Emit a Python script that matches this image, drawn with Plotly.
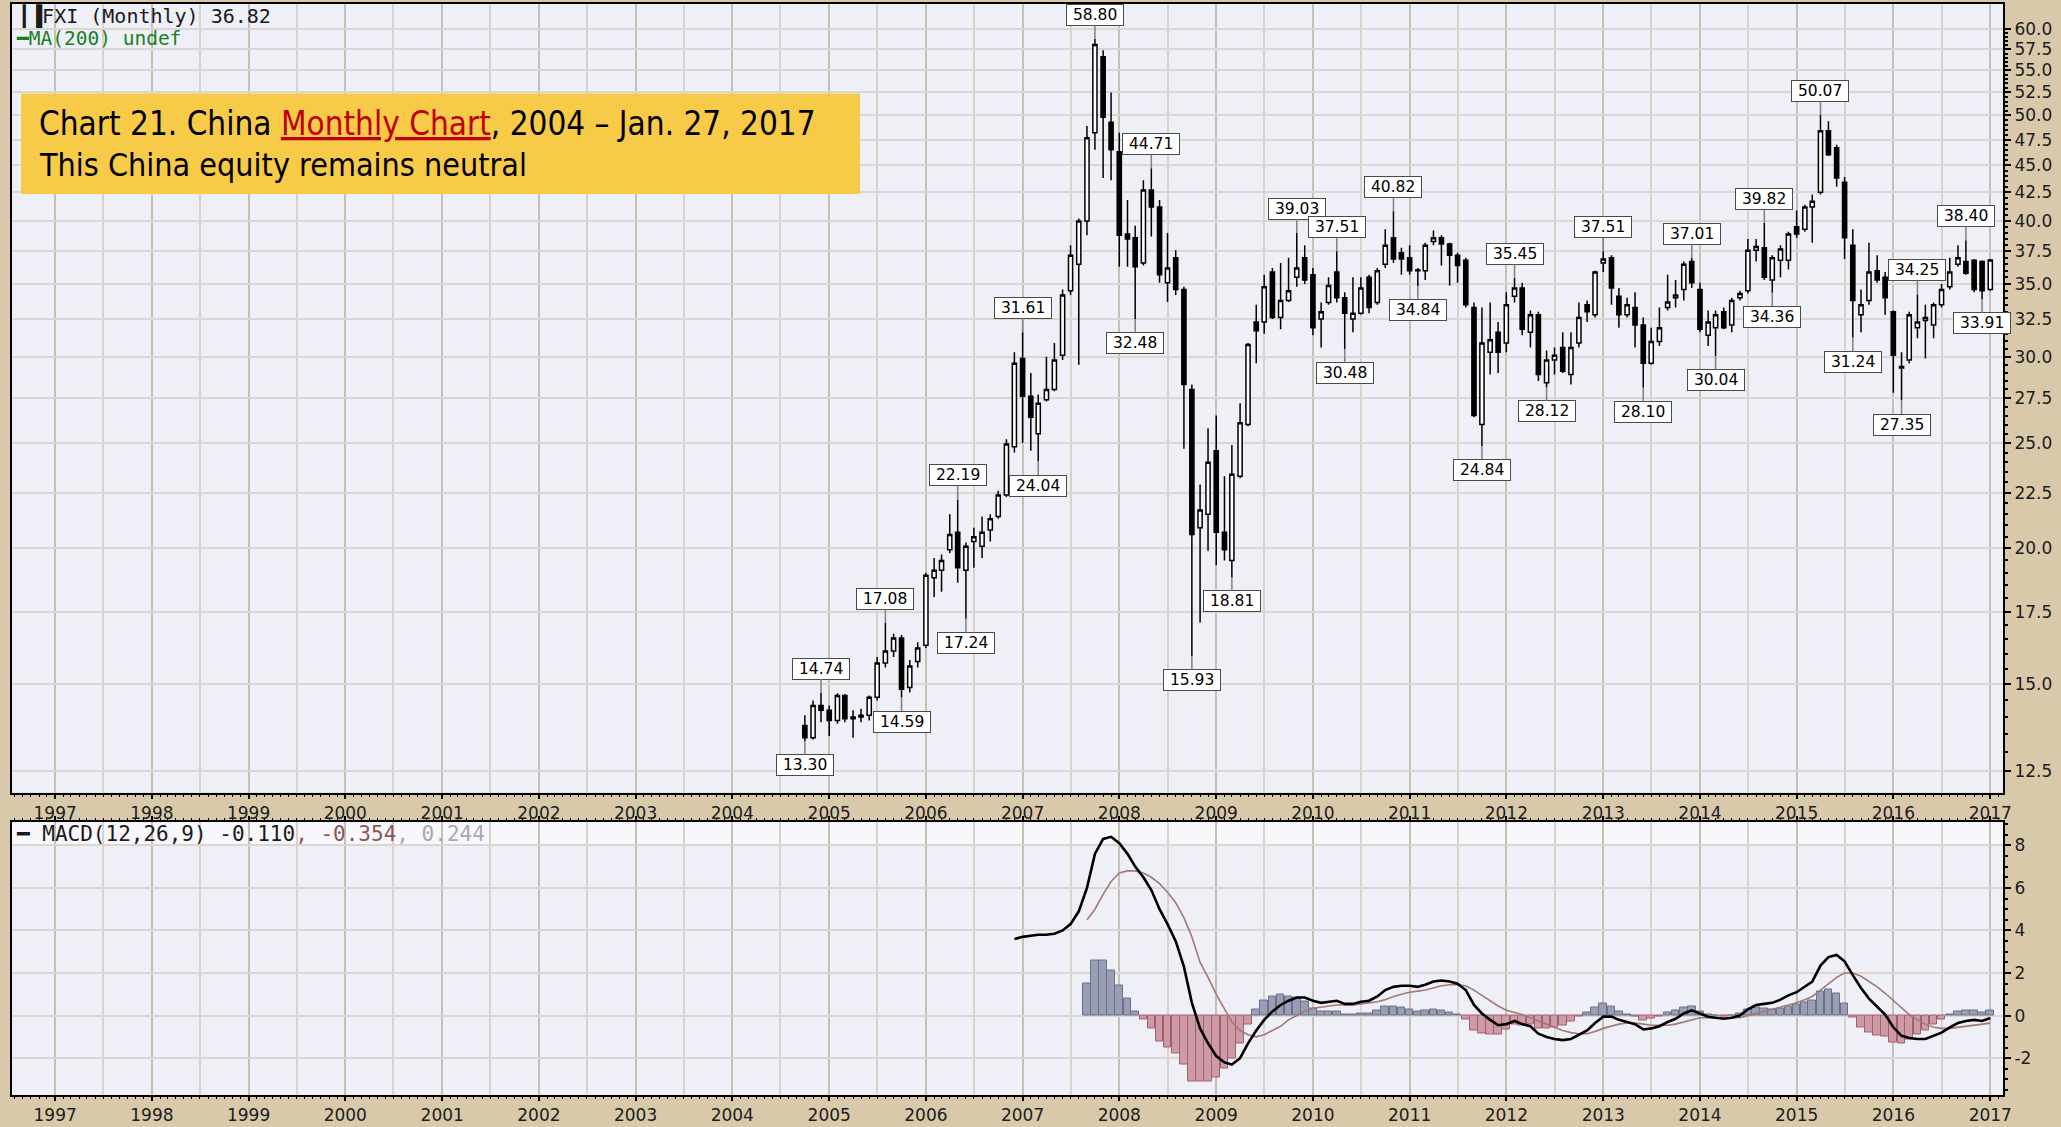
import numpy as np
import pandas as pd
import plotly.graph_objects as go

# ---------------- data (FXI monthly, Oct 2004 - Jan 2017) ----------------
open_ = [
    13.75, 13.40, 14.35,                                                        # 2004 Oct-Dec
    14.20, 13.90, 14.65, 13.95, 14.00, 14.05, 14.60, 15.70, 16.10, 16.55, 14.90, 15.75,  # 2005
    16.30, 18.80, 19.10, 19.95, 20.70, 19.10, 20.30, 20.10, 20.80, 21.40, 22.40, 24.80,  # 2006
    29.90, 27.60, 25.50, 27.40, 28.00, 30.10, 34.50, 36.50, 40.00, 48.20, 56.60, 49.30,  # 2007
    46.30, 38.90, 38.60, 36.60, 42.70, 41.20, 35.10, 37.00, 34.60, 28.00, 20.90, 21.50,  # 2008
    24.60, 20.70, 19.50, 23.30, 26.00, 32.30, 32.30, 35.90, 32.60, 33.80, 35.50, 37.00,  # 2009
    35.70, 32.50, 33.66, 35.90, 34.00, 32.50, 32.90, 35.50, 33.66, 36.50, 38.60, 37.40,  # 2010
    37.00, 36.00, 36.00, 38.30, 38.60, 38.10, 37.20, 36.80, 33.30, 26.00, 30.30, 31.60,  # 2011
    30.90, 34.10, 34.70, 31.60, 32.80, 28.40, 29.80, 30.60, 28.90, 30.90, 33.50, 32.80,  # 2012
    36.60, 37.00, 34.10, 32.80, 33.30, 32.10, 29.60, 31.00, 33.30, 34.00, 34.60, 36.70,  # 2013
    34.60, 31.40, 31.90, 33.00, 32.10, 34.00, 34.50, 37.60, 37.80, 35.30, 36.80, 36.80,  # 2014
    39.50, 39.30, 41.20, 42.50, 48.40, 46.70, 43.40, 38.00, 32.80, 33.80, 36.00, 35.50,  # 2015
    33.00, 29.30, 29.80, 31.90, 32.40, 32.10, 33.50, 34.80, 36.50, 36.70, 36.80, 36.70,  # 2016
    34.60,                                                                      # 2017 Jan
]
high = [
    14.05, 14.50, 14.74,
    14.35, 14.72, 14.70, 14.20, 14.25, 14.65, 15.90, 17.08, 16.70, 16.65, 15.80, 16.40,
    19.00, 19.60, 19.75, 21.50, 22.19, 20.25, 20.90, 21.40, 21.50, 22.60, 25.20, 30.30,
    31.61, 29.00, 27.70, 30.00, 30.90, 34.60, 38.00, 40.20, 48.90, 58.80, 57.40, 52.50,
    48.20, 41.80, 39.60, 43.60, 44.71, 41.80, 39.00, 37.60, 34.80, 28.30, 22.90, 25.80,
    26.50, 23.30, 24.90, 27.20, 30.90, 33.50, 35.70, 36.20, 36.60, 37.00, 39.03, 38.00,
    36.20, 33.66, 35.50, 37.51, 34.40, 35.50, 35.50, 35.70, 36.20, 39.30, 40.82, 37.80,
    38.00, 36.20, 38.20, 39.20, 38.80, 38.20, 37.40, 37.00, 33.66, 33.30, 33.66, 32.30,
    34.40, 35.45, 35.10, 33.10, 33.00, 30.40, 30.60, 31.60, 31.60, 33.66, 33.80, 36.00,
    37.51, 37.20, 34.70, 34.00, 34.40, 32.60, 31.90, 33.30, 35.70, 35.30, 36.70, 37.01,
    35.10, 33.10, 33.10, 33.30, 34.00, 34.50, 38.50, 38.50, 39.82, 37.20, 38.00, 39.10,
    40.90, 41.40, 42.30, 50.07, 49.40, 47.00, 43.90, 39.30, 34.60, 38.20, 37.20, 35.90,
    33.10, 30.30, 33.00, 34.25, 33.50, 33.66, 35.00, 37.00, 38.00, 38.40, 36.90, 36.80,
    36.90,
]
low = [
    13.30, 13.35, 13.85,
    13.45, 13.80, 13.85, 13.40, 13.85, 13.90, 14.50, 15.55, 15.90, 14.59, 14.75, 15.55,
    16.20, 18.05, 18.25, 19.80, 18.60, 17.24, 19.20, 19.60, 20.30, 21.30, 22.30, 24.50,
    25.00, 24.60, 24.04, 27.30, 27.90, 29.80, 34.20, 29.50, 38.80, 46.50, 43.80, 43.60,
    36.30, 36.30, 32.48, 36.40, 38.70, 35.10, 33.70, 34.20, 24.70, 15.93, 17.10, 19.90,
    19.30, 19.50, 18.81, 23.20, 25.90, 29.60, 31.50, 32.50, 31.80, 33.70, 34.80, 35.00,
    31.40, 30.60, 33.50, 33.66, 30.48, 31.60, 32.80, 32.90, 33.50, 36.20, 36.60, 35.70,
    35.70, 34.84, 35.30, 38.00, 36.40, 34.90, 35.10, 33.30, 26.40, 24.84, 28.90, 29.00,
    30.30, 33.66, 31.40, 30.60, 28.50, 28.12, 28.90, 29.00, 28.30, 30.60, 32.30, 32.60,
    35.90, 33.50, 31.90, 32.60, 30.60, 28.10, 29.50, 30.70, 33.10, 33.30, 33.80, 34.70,
    31.60, 30.70, 30.04, 31.80, 31.60, 33.80, 34.30, 36.70, 35.30, 34.36, 35.50, 36.10,
    38.60, 39.10, 38.20, 42.30, 45.90, 43.00, 36.90, 31.24, 31.60, 33.50, 35.10, 32.80,
    27.80, 27.35, 29.60, 31.20, 29.90, 31.20, 33.30, 34.60, 36.30, 35.70, 34.40, 33.91,
    34.50,
]
close = [
    13.40, 14.35, 14.20,
    13.90, 14.65, 13.95, 14.00, 14.05, 14.60, 15.70, 16.10, 16.55, 14.85, 15.60, 16.20,
    18.90, 19.10, 19.50, 20.60, 19.20, 20.10, 20.50, 20.70, 21.30, 22.40, 24.95, 29.60,
    27.60, 26.40, 27.20, 28.00, 29.80, 34.20, 37.20, 40.00, 47.70, 58.10, 49.80, 46.50,
    38.80, 38.50, 36.30, 42.70, 41.20, 35.70, 36.20, 34.60, 28.30, 20.60, 21.70, 24.00,
    20.70, 19.95, 23.40, 26.10, 30.80, 31.70, 34.80, 32.60, 33.80, 34.50, 36.20, 35.30,
    31.90, 33.00, 34.90, 34.00, 32.90, 32.90, 34.70, 33.30, 36.00, 38.00, 36.90, 36.90,
    36.00, 36.05, 38.00, 38.60, 38.10, 37.20, 36.40, 33.50, 26.50, 30.90, 31.10, 30.30,
    33.50, 34.70, 31.80, 32.80, 28.90, 29.80, 30.10, 29.10, 30.60, 32.60, 33.00, 35.90,
    36.90, 34.70, 32.80, 33.50, 32.10, 29.60, 31.00, 31.90, 33.70, 34.20, 36.50, 35.10,
    31.80, 32.30, 32.80, 31.90, 33.80, 34.30, 37.60, 37.90, 35.50, 37.00, 37.70, 38.90,
    38.90, 41.20, 41.70, 48.40, 46.00, 43.80, 38.60, 33.80, 33.50, 35.90, 35.30, 34.00,
    30.10, 29.40, 32.80, 32.30, 32.60, 33.50, 34.60, 35.90, 37.00, 35.80, 34.60, 34.50,
    36.82,
]
price_start = "2004-10-01"

# MACD(12,26,9) line, starting Dec 2006
macd = [
    3.60,
    3.70, 3.75, 3.80, 3.80, 3.85, 4.00, 4.30, 4.90, 6.00, 7.60, 8.30, 8.40,
    8.10, 7.60, 7.00, 6.50, 5.90, 5.00, 4.30, 3.50, 2.30, 0.60, -0.60, -1.30,
    -1.90, -2.20, -2.30, -2.00, -1.30, -0.70, -0.20, 0.20, 0.50, 0.70, 0.85, 0.85,
    0.70, 0.60, 0.65, 0.70, 0.55, 0.55, 0.65, 0.70, 0.90, 1.20, 1.35, 1.40,
    1.40, 1.35, 1.45, 1.60, 1.65, 1.60, 1.50, 1.20, 0.50, 0.10, -0.20, -0.45,
    -0.40, -0.25, -0.40, -0.50, -0.85, -1.00, -1.10, -1.15, -1.10, -0.90, -0.70, -0.35,
    -0.05, -0.05, -0.20, -0.30, -0.40, -0.65, -0.60, -0.50, -0.30, -0.15, 0.10, 0.25,
    0.10, -0.05, -0.10, -0.15, -0.10, 0.00, 0.30, 0.50, 0.55, 0.60, 0.75, 0.95,
    1.10, 1.35, 1.60, 2.35, 2.75, 2.85, 2.55, 1.90, 1.30, 0.80, 0.40, 0.05,
    -0.55, -0.95, -1.05, -1.10, -1.10, -0.95, -0.80, -0.55, -0.35, -0.25, -0.20, -0.25,
    -0.110,
]
macd_start = "2006-12-01"

# signal line and histogram, starting Sep 2007
signal = [
    4.50, 5.00, 5.70, 6.30,
    6.70, 6.80, 6.80, 6.70, 6.50, 6.20, 5.80, 5.30, 4.60, 3.70, 2.50, 1.80,
    1.00, 0.30, -0.30, -0.70, -0.90, -1.00, -0.90, -0.70, -0.50, -0.20, 0.00, 0.20,
    0.35, 0.40, 0.45, 0.50, 0.50, 0.50, 0.55, 0.60, 0.65, 0.75, 0.90, 1.00,
    1.10, 1.15, 1.20, 1.30, 1.40, 1.45, 1.45, 1.40, 1.20, 0.95, 0.70, 0.45,
    0.25, 0.15, 0.05, -0.10, -0.25, -0.40, -0.55, -0.70, -0.80, -0.85, -0.85, -0.75,
    -0.60, -0.50, -0.40, -0.35, -0.35, -0.40, -0.45, -0.45, -0.45, -0.40, -0.30, -0.20,
    -0.10, -0.10, -0.10, -0.10, -0.10, -0.10, 0.00, 0.10, 0.20, 0.30, 0.40, 0.50,
    0.60, 0.75, 0.90, 1.20, 1.50, 1.80, 2.00, 2.00, 1.85, 1.60, 1.35, 1.05,
    0.70, 0.35, 0.05, -0.20, -0.40, -0.55, -0.60, -0.60, -0.55, -0.50, -0.45, -0.40,
    -0.354,
]
hist = [
    1.50, 2.60, 2.60, 2.10,
    1.40, 0.80, 0.20, -0.20, -0.60, -1.20, -1.50, -1.80, -2.30, -3.10, -3.10, -3.10,
    -2.90, -2.50, -2.00, -1.30, -0.40, 0.30, 0.70, 0.90, 1.00, 0.90, 0.85, 0.65,
    0.35, 0.20, 0.20, 0.20, 0.05, 0.05, 0.10, 0.10, 0.25, 0.45, 0.45, 0.40,
    0.30, 0.20, 0.25, 0.30, 0.25, 0.15, 0.05, -0.20, -0.70, -0.85, -0.90, -0.90,
    -0.65, -0.40, -0.45, -0.40, -0.60, -0.60, -0.55, -0.45, -0.30, -0.05, 0.15, 0.40,
    0.55, 0.45, 0.20, 0.05, -0.05, -0.25, -0.15, -0.05, 0.15, 0.25, 0.40, 0.45,
    0.20, 0.05, 0.00, -0.05, 0.00, 0.10, 0.30, 0.40, 0.35, 0.30, 0.35, 0.45,
    0.50, 0.60, 0.70, 1.15, 1.25, 1.05, 0.55, -0.10, -0.55, -0.80, -0.95, -1.00,
    -1.25, -1.30, -1.10, -0.90, -0.70, -0.40, -0.20, 0.05, 0.20, 0.25, 0.25, 0.15,
    0.244,
]
signal_start = "2007-09-01"

# swing labels on the price panel
label_dates = ["2004-10-01", "2004-12-01", "2005-08-01", "2005-10-01", "2006-05-01",
               "2006-06-01", "2007-01-01", "2007-03-01", "2007-10-01", "2008-03-01",
               "2008-05-01", "2008-10-01", "2009-03-01", "2009-11-01", "2010-04-01",
               "2010-05-01", "2010-11-01", "2011-02-01", "2011-10-01", "2012-02-01",
               "2012-06-01", "2013-01-01", "2013-06-01", "2013-12-01", "2014-03-01",
               "2014-09-01", "2014-10-01", "2015-04-01", "2015-08-01", "2016-02-01",
               "2016-04-01", "2016-10-01", "2016-12-01"]
label_values = [13.30, 14.74, 17.08, 14.59, 22.19, 17.24, 31.61, 24.04, 58.80, 32.48,
                44.71, 15.93, 18.81, 39.03, 37.51, 30.48, 40.82, 34.84, 24.84, 35.45,
                28.12, 37.51, 28.10, 37.01, 30.04, 39.82, 34.36, 50.07, 31.24, 27.35,
                34.25, 38.40, 33.91]
label_kinds = ["L", "H", "H", "L", "H", "L", "H", "L", "H", "L",
               "H", "L", "L", "H", "H", "L", "H", "L", "L", "H",
               "L", "H", "L", "H", "L", "H", "L", "H", "L", "L",
               "H", "H", "L"]

price_ticks = [12.5, 15.0, 17.5, 20.0, 22.5, 25.0, 27.5, 30.0, 32.5, 35.0, 37.5,
               40.0, 42.5, 45.0, 47.5, 50.0, 52.5, 55.0, 57.5, 60.0]
price_ticktext = ["12.5", "15.0", "17.5", "20.0", "22.5", "25.0", "27.5", "30.0", "32.5",
                  "35.0", "37.5", "40.0", "42.5", "45.0", "47.5", "50.0", "52.5", "55.0",
                  "57.5", "60.0"]
macd_ticks = [-2, 0, 2, 4, 6, 8]
macd_ticktext = ["-2", "0", "2", "4", "6", "8"]

assert len(open_) == len(high) == len(low) == len(close) == 148
assert len(macd) == 122 and len(signal) == 113 and len(hist) == 113

dates = pd.date_range(price_start, periods=len(close), freq="MS")
macd_dates = pd.date_range(macd_start, periods=len(macd), freq="MS")
sig_dates = pd.date_range(signal_start, periods=len(signal), freq="MS")

# ---------------- layout geometry ----------------
W, H = 2061, 1127
ML, MR, MT, MB = 12, 58, 2, 28
PW, PH = W - ML - MR, H - MT - MB


def px(x):
    return (x - ML) / PW


def py(y):
    return (H - MB - y) / PH


TAN = "#D9C9AB"
PLOTBG = "#EFEFF7"
YEARGRID = "#C7BFB1"
HALFGRID = "#D7D2CA"
HGRID = "#DAD7D3"
XR = ["1996-07-22", "2017-02-18"]

fig = go.Figure()

fig.add_trace(go.Candlestick(
    x=dates, open=open_, high=high, low=low, close=close,
    xaxis="x", yaxis="y",
    increasing=dict(line=dict(color="black", width=1.5), fillcolor="white"),
    decreasing=dict(line=dict(color="black", width=1.5), fillcolor="black"),
    whiskerwidth=0, showlegend=False, hoverinfo="skip",
))

bar_fill = ["#9A9EB4" if v >= 0 else "#CE9AA5" for v in hist]
bar_line = ["#6C7088" if v >= 0 else "#A0606F" for v in hist]
fig.add_trace(go.Bar(
    x=sig_dates, y=hist, xaxis="x2", yaxis="y2",
    marker=dict(color=bar_fill, line=dict(color=bar_line, width=1)),
    width=29 * 86400000, showlegend=False, hoverinfo="skip",
))
fig.add_trace(go.Scatter(
    x=sig_dates, y=signal, xaxis="x2", yaxis="y2", mode="lines",
    line=dict(color="#A27878", width=1.6), showlegend=False, hoverinfo="skip",
))
fig.add_trace(go.Scatter(
    x=macd_dates, y=macd, xaxis="x2", yaxis="y2", mode="lines",
    line=dict(color="black", width=2.6), showlegend=False, hoverinfo="skip",
))
# invisible anchors so the monthly-tick overlay axes are drawn
fig.add_trace(go.Scatter(x=[dates[0]], y=[close[0]], xaxis="x3", yaxis="y",
                         mode="markers", marker=dict(opacity=0), showlegend=False,
                         hoverinfo="skip"))
fig.add_trace(go.Scatter(x=[macd_dates[0]], y=[macd[0]], xaxis="x4", yaxis="y2",
                         mode="markers", marker=dict(opacity=0), showlegend=False,
                         hoverinfo="skip"))

tickfont_x = dict(family="DejaVu Sans", size=17, color="#1c1c1c")
tickfont_y = dict(family="DejaVu Sans", size=17, color="#1c1c1c")

xcommon = dict(
    type="date", range=XR, tickformat="%Y", dtick="M12", tick0="1997-01-01",
    ticks="outside", ticklen=4, tickwidth=1.5, tickcolor="black",
    showgrid=True, gridcolor=YEARGRID, gridwidth=2,
    showline=True, linecolor="black", linewidth=2,
    tickfont=tickfont_x, zeroline=False,
    minor=dict(dtick="M6", tick0="1997-01-01", showgrid=True, gridcolor=HALFGRID,
               gridwidth=1.5, ticks=""),
)
xover = dict(
    type="date", range=XR, dtick="M1", tick0="1997-01-01", ticks="outside",
    ticklen=3, tickwidth=1, tickcolor="black", showticklabels=False,
    showgrid=False, showline=False, zeroline=False,
)

minor_price = [v / 2 for v in range(25, 121) if (v / 2) not in price_ticks]

fig.update_layout(
    width=W, height=H, margin=dict(l=ML, r=MR, t=MT, b=MB),
    paper_bgcolor=TAN, plot_bgcolor=PLOTBG, showlegend=False, bargap=0,
    boxgap=0.2,
    xaxis=dict(domain=[0, 1], anchor="y", mirror=True,
               rangeslider=dict(visible=False), **xcommon),
    xaxis2=dict(domain=[0, 1], anchor="y2", mirror="ticks", **xcommon),
    xaxis3=dict(overlaying="x", anchor="y", **xover),
    xaxis4=dict(overlaying="x2", anchor="y2", mirror="ticks", **xover),
    yaxis=dict(
        domain=[py(795), 1], anchor="x", type="log",
        range=[np.log10(11.93), np.log10(63.3)], side="right",
        tickmode="array", tickvals=price_ticks, ticktext=price_ticktext,
        ticks="outside", ticklen=6, tickwidth=1.5, tickcolor="black",
        showgrid=True, gridcolor=HGRID, gridwidth=1.5,
        showline=True, linecolor="black", linewidth=2, mirror=True,
        tickfont=tickfont_y, zeroline=False,
        minor=dict(tickmode="array", tickvals=minor_price, ticks="outside",
                   ticklen=3, tickcolor="black", showgrid=False),
    ),
    yaxis2=dict(
        domain=[0, py(824)], anchor="x2", range=[-3.73, 9.12], side="right",
        tickmode="array", tickvals=macd_ticks, ticktext=macd_ticktext,
        ticks="outside", ticklen=6, tickwidth=1.5, tickcolor="black",
        showgrid=True, gridcolor=HGRID, gridwidth=1.5,
        showline=True, linecolor="black", linewidth=2, mirror=True,
        tickfont=tickfont_y, zeroline=False,
        minor=dict(dtick=0.5, ticks="outside", ticklen=3, tickcolor="black",
                   showgrid=False),
    ),
)

shapes = [
    # title box
    dict(type="rect", xref="paper", yref="paper", x0=px(21), x1=px(860),
         y0=py(193), y1=py(92), fillcolor="#F7CA48", line=dict(width=0), layer="above"),
    # MACD header band
    dict(type="rect", xref="paper", yref="paper", x0=0, x1=1, y0=py(848), y1=py(825),
         fillcolor="#F8F8FC", line=dict(width=0), layer="below"),
    dict(type="line", xref="paper", yref="paper", x0=0, x1=1, y0=py(848), y1=py(848),
         line=dict(color="#D8D8E0", width=1), layer="below"),
]
fig.update_layout(shapes=shapes)

ann = []
title_font = "DejaVu Sans Condensed, Liberation Sans, sans-serif"
ann.append(dict(
    xref="paper", yref="paper", x=px(37), y=py(122), xanchor="left", yanchor="middle",
    showarrow=False,
    text="Chart 21. China <span style='color:#C00000'><u>Monthly Chart</u></span>, 2004 \u2013 Jan. 27, 2017",
    font=dict(family=title_font, size=33, color="black"),
))
ann.append(dict(
    xref="paper", yref="paper", x=px(37), y=py(164), xanchor="left", yanchor="middle",
    showarrow=False, text="This China equity remains neutral",
    font=dict(family=title_font, size=32, color="black"),
))
legend_font = "DejaVu Sans Mono, monospace"
ann.append(dict(
    xref="paper", yref="paper", x=px(16), y=py(14), xanchor="left", yanchor="middle",
    showarrow=False, text="<b>\u2503\u2590</b>FXI (Monthly) 36.82",
    font=dict(family=legend_font, size=20, color="#1a1a1a"),
))
ann.append(dict(
    xref="paper", yref="paper", x=px(14), y=py(37), xanchor="left", yanchor="middle",
    showarrow=False, text="\u2501MA(200) undef",
    font=dict(family=legend_font, size=19.5, color="#17801f"),
))
ann.append(dict(
    xref="paper", yref="paper", x=px(14), y=py(837), xanchor="left", yanchor="middle",
    showarrow=False,
    text="\u2501 MACD(12,26,9) -0.110<span style='color:#8A5656'>, -0.354</span>"
         "<span style='color:#A8A8B4'>, 0.244</span>",
    font=dict(family=legend_font, size=21, color="#1a1a1a"),
))

for d, v, k in zip(label_dates, label_values, label_kinds):
    ann.append(dict(
        x=d, y=np.log10(v), xref="x", yref="y",
        text="\u00a0" + f"{v:.2f}" + "\u00a0",
        showarrow=True, arrowhead=0, arrowwidth=1.5, arrowcolor="#808080",
        ax=0, ay=-24 if k == "H" else 24, standoff=0,
        font=dict(family="DejaVu Sans", size=15.5, color="black"),
        bgcolor="white", bordercolor="#4a4a4a", borderwidth=1, borderpad=1,
    ))
fig.update_layout(annotations=ann)

fig.write_html(
    "out.html",
    config={"displayModeBar": False},
    post_script="document.body.style.margin='0';document.body.style.overflow='hidden';"
                "document.body.style.background='" + TAN + "';",
)
